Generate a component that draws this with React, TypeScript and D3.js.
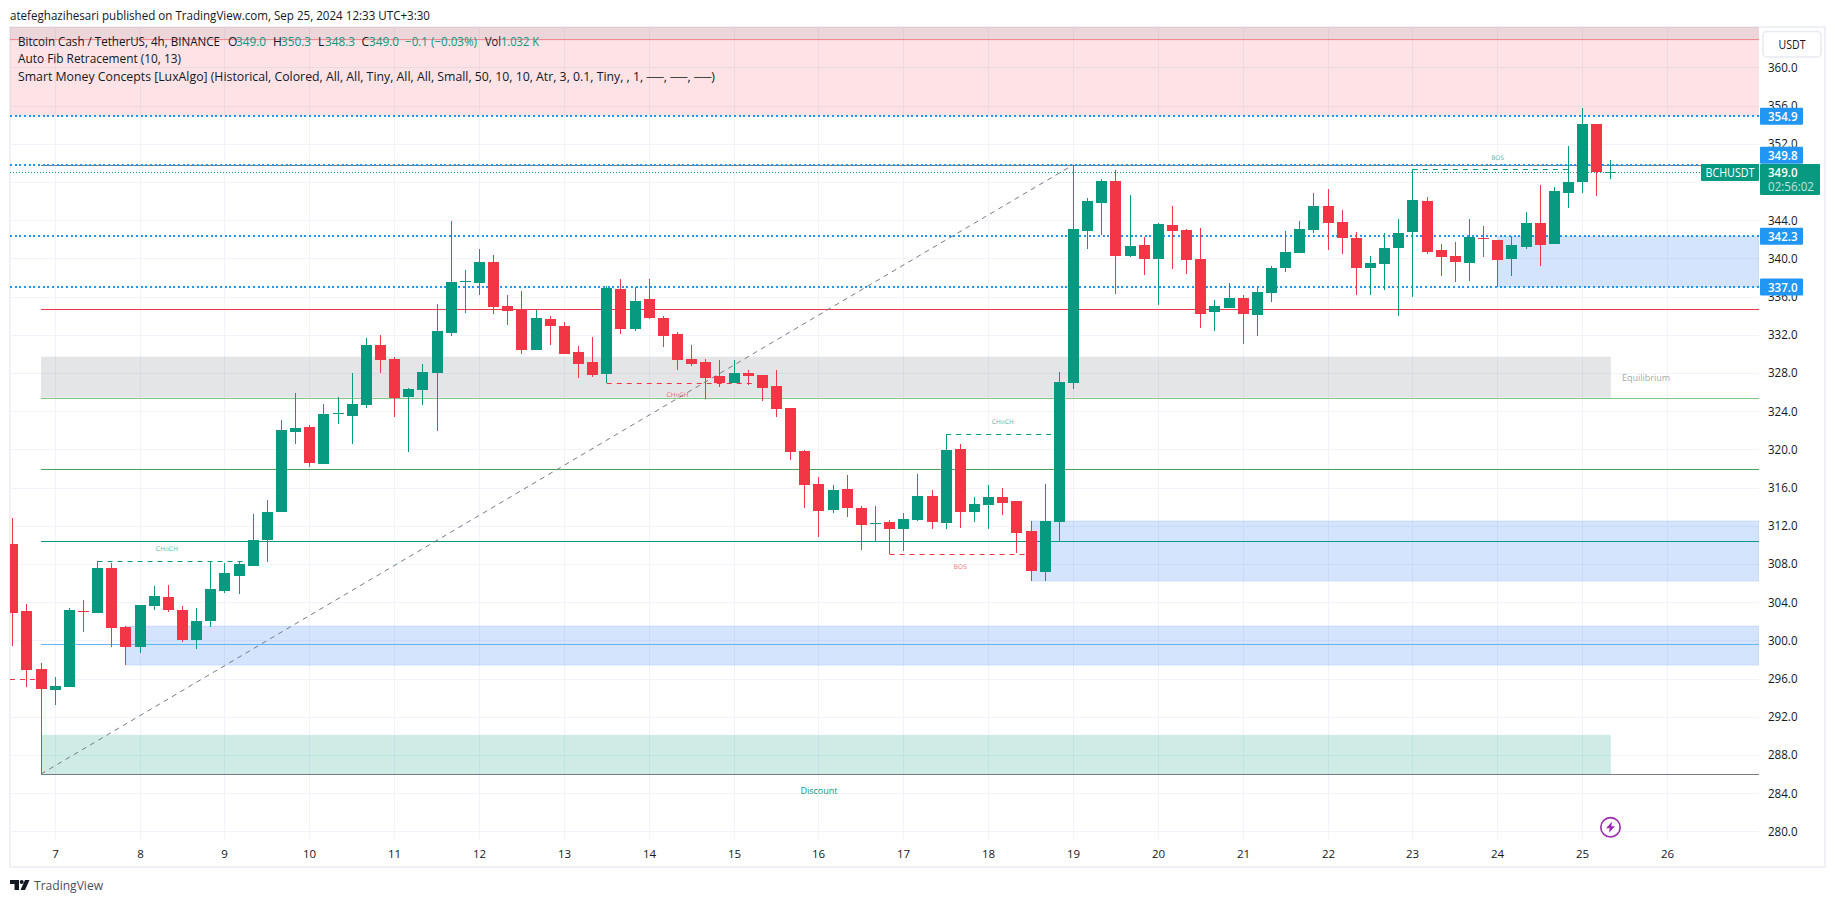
import React from "react";
import * as d3 from "d3";

const opens = [310.1,303.1,297.0,294.8,295.1,303.1,302.9,307.6,301.4,299.3,303.6,304.5,303.2,300.0,302.0,305.2,306.7,307.8,310.5,313.4,321.8,322.3,318.5,323.7,323.5,324.6,330.9,329.5,325.5,326.2,328.0,332.2,337.5,337.4,339.6,335.0,334.6,330.4,333.6,332.9,330.2,329.1,327.9,336.8,332.6,335.7,333.8,332.1,329.5,329.1,327.7,326.9,328.0,327.8,326.6,324.3,319.8,316.4,313.6,315.8,313.9,312.2,312.4,311.7,312.6,315.1,312.3,320.0,313.4,314.2,315.0,314.6,311.4,307.2,312.4,326.9,342.9,345.8,348.1,340.2,341.4,339.9,343.5,343.0,339.9,334.4,334.8,335.8,334.1,336.4,339.0,340.6,343.0,345.5,343.8,342.1,339.0,339.4,341.1,342.8,346.0,340.9,340.2,339.5,342.1,341.9,339.9,341.2,343.7,341.5,346.8,348.0,354.1,349.0];
const highs = [312.8,303.8,297.6,296.2,303.4,304.2,308.3,308.1,301.5,303.7,305.7,305.8,303.6,303.4,308.3,308.1,308.3,313.2,314.7,323.1,325.9,322.5,324.7,325.5,328.0,331.7,332.0,329.7,326.4,328.9,335.2,343.9,338.8,341.0,340.3,336.2,336.6,334.6,334.0,333.3,330.8,331.8,337.1,337.8,337.0,337.8,334.0,332.3,330.9,329.5,329.4,329.3,328.3,327.8,328.3,324.3,319.9,317.1,316.3,317.3,314.1,314.1,312.6,313.3,317.4,315.7,321.6,320.6,315.0,316.3,316.0,314.6,312.5,316.4,328.1,349.8,346.3,348.3,349.2,346.6,342.2,343.7,345.5,343.1,343.2,335.6,337.4,336.2,337.0,339.2,342.9,343.9,346.8,347.3,345.1,342.8,340.2,342.7,344.1,349.4,346.4,341.5,341.7,344.1,343.4,341.9,342.3,344.9,347.7,347.5,351.8,355.7,354.1,350.3];
const lows = [299.4,295.1,286.0,293.2,295.1,300.9,302.9,299.3,297.4,298.7,303.2,303.0,299.8,299.1,301.4,305.0,304.9,307.8,308.2,313.4,320.6,318.1,318.5,322.6,320.6,324.3,328.0,323.4,319.7,324.6,321.9,331.9,334.3,336.2,334.2,333.0,330.0,330.4,330.9,330.0,327.5,327.6,326.9,332.1,332.4,333.6,330.7,328.3,328.7,325.3,326.5,326.9,326.7,325.1,323.4,318.9,313.9,310.8,313.3,312.9,309.5,310.4,309.0,309.4,312.5,311.7,311.7,311.8,312.4,311.7,313.1,309.1,306.2,306.2,310.4,326.3,341.0,342.4,336.3,340.1,338.2,335.1,338.9,338.4,332.7,332.4,334.8,331.0,331.9,335.4,338.6,340.6,342.6,340.9,340.5,336.2,336.2,336.7,334.0,336.0,340.4,338.1,337.5,337.6,340.1,337.0,338.1,341.0,339.2,341.5,345.3,346.8,346.5,348.3];
const closes = [302.9,296.9,294.9,295.2,303.2,303.0,307.6,301.3,299.3,303.7,304.6,303.2,300.0,302.0,305.4,307.0,308.0,310.5,313.4,322.0,322.2,318.6,323.7,323.8,324.7,330.9,329.4,325.4,326.3,328.1,332.4,337.5,337.6,339.6,334.9,334.5,330.4,333.7,332.9,330.0,328.9,327.8,336.9,332.6,335.5,333.7,331.9,329.4,328.9,327.5,326.9,328.0,327.7,326.4,324.2,319.7,316.3,313.5,315.7,313.9,312.1,312.3,311.7,312.7,315.1,312.4,319.9,313.4,314.3,315.0,314.4,311.2,307.3,312.5,327.0,343.1,346.0,348.1,340.2,341.3,339.9,343.6,342.9,339.8,334.2,335.0,335.8,334.2,336.5,339.0,340.7,343.1,345.5,343.7,342.1,339.0,339.5,341.1,342.7,346.1,340.7,340.1,339.6,342.2,342.0,339.8,341.4,343.7,341.4,347.0,348.0,354.1,349.0,349.0];

const dayLabels = ["7","8","9","10","11","12","13","14","15","16","17","18","19","20","21","22","23","24","25","26"];
const dayFirstBar = 3;
const barsPerDay = 6;
const priceTicks = d3.range(280, 361, 4);

const keyLevels = [354.9, 349.8, 342.3, 337.0];
const fibLevels = [
  { price: 349.8, color: "#787b86" },
  { price: 334.74, color: "#f23645" },
  { price: 325.4, color: "#81c784" },
  { price: 317.9, color: "#4e9f5c" },
  { price: 310.4, color: "#089981" },
  { price: 299.65, color: "#64b5f6" },
  { price: 286.0, color: "#787b86" },
];
const fibStartBar = 2;
const fibEndBar = 75;
const fibLowPrice = 286.0;
const fibHighPrice = 349.8;

const orderBlocks = [
  { fromBar: 8, top: 301.5, bottom: 297.4 },
  { fromBar: 72, top: 312.5, bottom: 306.2 },
  { fromBar: 105, top: 342.3, bottom: 337.0 },
];
const structure = [
  { label: "CHoCH", price: 308.3, from: 6, to: 16.5, labelBar: 10.9, color: "#089981", labelGap: -12.5 },
  { label: "CHoCH", price: 326.9, from: 42, to: 52.5, labelBar: 47, color: "#f23645", labelGap: 11.5 },
  { label: "CHoCH", price: 321.6, from: 66, to: 73.5, labelBar: 70, color: "#089981", labelGap: -12.5 },
  { label: "BOS", price: 309.0, from: 62, to: 71.7, labelBar: 67, color: "#f23645", labelGap: 12.5 },
  { label: "BOS", price: 349.3, from: 99, to: 110, labelBar: 105, color: "#089981", labelGap: -12 },
];

const W = 1835;
const H = 903;
const PL = 10;
const PR = 1759;
const PT = 27;
const PB = 839;
const UP = "#089981";
const DOWN = "#f23645";
const BLUE = "#2196f3";
const FONT = "'Open Sans', 'Noto Sans', sans-serif";
const INK = "#131722";

const x = d3.scaleLinear().domain([0, 113]).range([12.75, 1610.88]);
const y = d3.scaleLinear().domain([360, 280]).range([67.3, 831.3]);
const col = (i: number) => Math.floor(x(i));
const lastBar = opens.length - 1;

function Txt(p: any) {
  const { len, children, ...rest } = p;
  return (
    <text fontFamily={FONT} fontSize={12} fill={INK} dominantBaseline="central"
      {...(len ? { textLength: len, lengthAdjust: "spacingAndGlyphs" } : {})} {...rest}>
      {children}
    </text>
  );
}

function Badge({ yc, text }: { yc: number; text: string }) {
  return (
    <g>
      <rect x={1760} y={yc - 8.5} width={43} height={17} rx={1} fill={BLUE} />
      <Txt x={1768} y={yc} fill="#fff" fontWeight={600} len={29.5}>{text}</Txt>
    </g>
  );
}

export default function App() {
  const dayBars = dayLabels.map((_, i) => dayFirstBar + i * barsPerDay);
  return (
    <svg width={W} height={H} viewBox={`0 0 ${W} ${H}`}
      style={{ position: "fixed", left: 0, top: 0, background: "#fff", display: "block" }}>
      <defs>
        <clipPath id="pane"><rect x={PL} y={PT} width={PR - PL} height={PB - PT} /></clipPath>
      </defs>

      <rect x={10} y={27} width={1815} height={840} fill="none" stroke="#f0f1f7" strokeWidth={2} />

      {priceTicks.map((t) => (
        <line key={t} x1={PL} x2={PR} y1={Math.round(y(t)) + 0.5} y2={Math.round(y(t)) + 0.5} stroke="#f0f3fa" />
      ))}
      {dayBars.map((b) => (
        <line key={b} x1={col(b) + 0.5} x2={col(b) + 0.5} y1={PT} y2={PB} stroke="#f0f3fa" />
      ))}

      <g clipPath="url(#pane)">
        <rect x={PL} y={PT} width={PR - PL} height={y(354.9) - PT} fill="#f23645" fillOpacity={0.14} />
        <rect x={PL} y={PT} width={PR - PL} height={y(362.9) - PT} fill="#787b86" fillOpacity={0.12} />
        <line x1={PL} x2={PR} y1={y(362.9)} y2={y(362.9)} stroke="#f23645" strokeOpacity={0.55} />

        <rect x={x(fibStartBar)} y={y(329.7)} width={x(lastBar) - x(fibStartBar)} height={y(325.4) - y(329.7)} fill="#787b86" fillOpacity={0.2} />
        <rect x={x(fibStartBar)} y={y(290.1)} width={x(lastBar) - x(fibStartBar)} height={y(286) - y(290.1)} fill={UP} fillOpacity={0.2} />

        {orderBlocks.map((b, i) => (
          <rect key={i} x={x(b.fromBar)} y={y(b.top)} width={PR - x(b.fromBar)} height={y(b.bottom) - y(b.top)}
            fill="#216ef3" fillOpacity={0.19} stroke="#216ef3" strokeOpacity={0.12} />
        ))}

        {fibLevels.map((l) => (
          <line key={l.price} x1={x(fibStartBar)} x2={PR} y1={Math.round(y(l.price)) + 0.5} y2={Math.round(y(l.price)) + 0.5} stroke={l.color} />
        ))}
        <line x1={x(fibStartBar)} y1={y(fibLowPrice)} x2={x(fibEndBar)} y2={y(fibHighPrice)} stroke="#787b86" strokeDasharray="5 4.5" />

        {keyLevels.map((p) => (
          <line key={p} x1={PL} x2={PR} y1={Math.round(y(p))} y2={Math.round(y(p))} stroke={BLUE} strokeWidth={2} strokeDasharray="2 2.67" shapeRendering="crispEdges" />
        ))}
        <line x1={PL} x2={1701} y1={Math.round(y(349)) + 0.5} y2={Math.round(y(349)) + 0.5} stroke={UP} strokeDasharray="1 2" />
        <line x1={PL} x2={x(2)} y1={Math.round(y(296)) + 0.5} y2={Math.round(y(296)) + 0.5} stroke={DOWN} strokeDasharray="5 5" />

        {structure.map((s, i) => (
          <g key={i}>
            <line x1={x(s.from)} x2={x(s.to)} y1={Math.round(y(s.price)) + 0.5} y2={Math.round(y(s.price)) + 0.5} stroke={s.color} strokeDasharray="5 5" />
            <text x={x(s.labelBar)} y={y(s.price) + s.labelGap} textAnchor="middle" dominantBaseline="central"
              fontFamily="'DejaVu Sans', sans-serif" fontSize={6.3} fill={s.color} fillOpacity={0.7}>{s.label}</text>
          </g>
        ))}

        <Txt x={1646} y={377} textAnchor="middle" fontSize={9} fill="#787b86" fillOpacity={0.7}>Equilibrium</Txt>
        <Txt x={819} y={790} textAnchor="middle" fontSize={9} fill={UP}>Discount</Txt>

        {opens.map((o, i) => {
          const c = closes[i];
          const color = c >= o ? UP : DOWN;
          const top = Math.round(y(Math.max(o, c)));
          const bot = Math.round(y(Math.min(o, c)));
          const cx = col(i);
          return (
            <g key={i}>
              <rect x={cx} y={Math.round(y(highs[i]))} width={1} height={Math.max(1, Math.round(y(lows[i])) - Math.round(y(highs[i])))} fill={color} />
              <rect x={cx - 5} y={top} width={11} height={Math.max(1, bot - top)} fill={color} />
            </g>
          );
        })}
      </g>

      <Txt x={10} y={15} len={420} fontSize={12.5}>atefeghazihesari published on TradingView.com, Sep 25, 2024 12:33 UTC+3:30</Txt>

      <Txt x={18} y={41} len={202}>Bitcoin Cash / TetherUS, 4h, BINANCE</Txt>
      <Txt x={228} y={41}>O</Txt><Txt x={236} y={41} fill={UP} len={30}>349.0</Txt>
      <Txt x={273} y={41}>H</Txt><Txt x={281} y={41} fill={UP} len={30}>350.3</Txt>
      <Txt x={318} y={41}>L</Txt><Txt x={325} y={41} fill={UP} len={30}>348.3</Txt>
      <Txt x={361.5} y={41}>C</Txt><Txt x={369} y={41} fill={UP} len={30}>349.0</Txt>
      <Txt x={405} y={41} fill={UP} len={72}>−0.1 (−0.03%)</Txt>
      <Txt x={485} y={41} len={16}>Vol</Txt><Txt x={501} y={41} fill={UP} len={38}>1.032 K</Txt>
      <Txt x={18} y={58.5} len={163}>Auto Fib Retracement (10, 13)</Txt>
      <Txt x={18} y={76} len={697}>Smart Money Concepts [LuxAlgo] (Historical, Colored, All, All, Tiny, All, All, Small, 50, 10, 10, Atr, 3, 0.1, Tiny, , 1, ──, ──, ──)</Txt>

      <rect x={1763} y={31.5} width={58} height={25.5} rx={4} fill="#fff" stroke="#e8eaf2" strokeWidth={1.5} />
      <Txt x={1792} y={44.5} textAnchor="middle" len={27}>USDT</Txt>

      {priceTicks.map((t) => (
        <Txt key={t} x={1768} y={y(t)} len={29.5}>{t.toFixed(1)}</Txt>
      ))}

      {dayBars.map((b, i) => (
        <Txt key={b} x={col(b) + 0.5} y={853} textAnchor="middle" fontSize={11.5}>{dayLabels[i]}</Txt>
      ))}

      <Badge yc={116.3} text="354.9" />
      <Badge yc={155.3} text="349.8" />
      <Badge yc={236.3} text="342.3" />
      <Badge yc={287} text="337.0" />

      <rect x={1701} y={164} width={58} height={17} rx={1} fill={UP} />
      <Txt x={1705.5} y={172.5} fill="#fff" len={49}>BCHUSDT</Txt>
      <rect x={1760} y={164} width={60} height={31} rx={1} fill={UP} />
      <Txt x={1768} y={172.7} fill="#fff" fontWeight={600} len={29.5}>{closes[lastBar].toFixed(1)}</Txt>
      <Txt x={1768} y={186.7} fill="#fff" fillOpacity={0.75} len={46}>02:56:02</Txt>

      <g transform={`translate(${col(lastBar) + 0.5},827.3)`}>
        <circle r={9.7} fill="#fff" stroke="#9c27b0" strokeWidth={1.6} />
        <path d="M1.5 -5.5 L-4.5 1 L-0.8 1 L-1.5 5.5 L4.5 -1 L0.8 -1 Z" fill="#9c27b0" />
      </g>

      <g transform="translate(10,880)" fill="#131722">
        <path d="M0 0 H9 V10 H4.5 V4 H0 Z" />
        <circle cx={11.7} cy={2} r={2} />
        <path d="M15 0 H19.5 L15 10 H10.5 Z" />
      </g>
      <Txt x={34} y={885} fontSize={13} fill="#4a4f5e" len={69}>TradingView</Txt>
    </svg>
  );
}
